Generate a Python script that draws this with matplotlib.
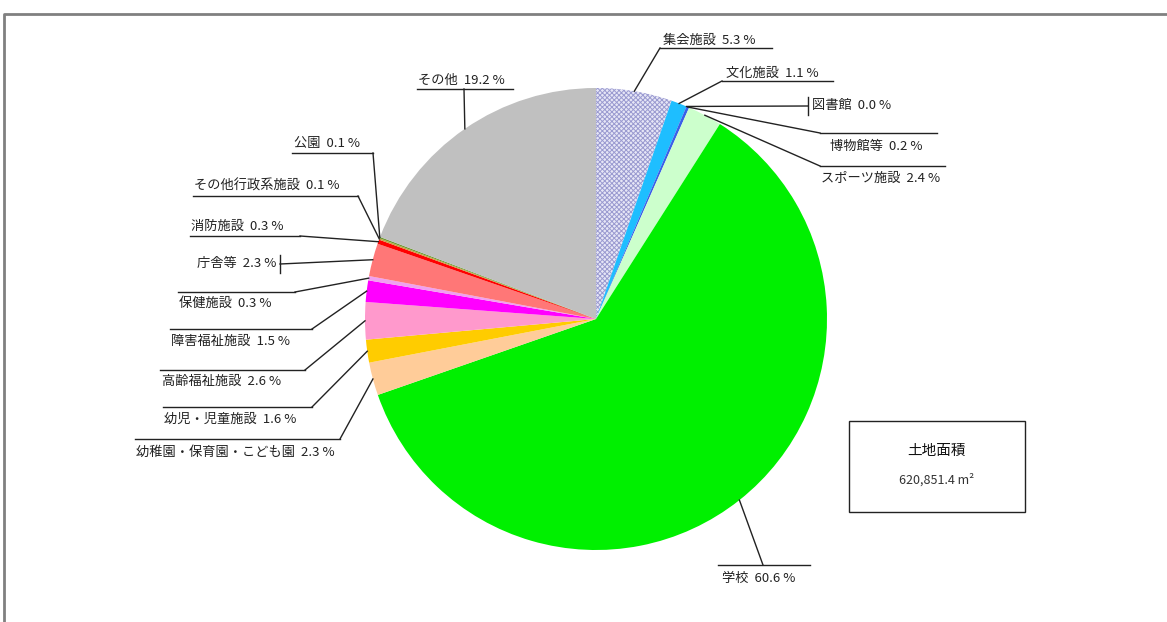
import matplotlib
matplotlib.use('Agg')
import matplotlib.pyplot as plt
from matplotlib.patches import Rectangle
import numpy as np

plt.rcParams['font.family'] = ['Noto Sans CJK JP', 'DejaVu Sans']
plt.rcParams['hatch.linewidth'] = 0.7

# land area share by facility type (%)
names = ['集会施設', '文化施設', '図書館', '博物館等', 'スポーツ施設', '学校',
         '幼稚園・保育園・こども園', '幼児・児童施設', '高齢福祉施設', '障害福祉施設',
         '保健施設', '庁舎等', '消防施設', 'その他行政系施設', '公園', 'その他']
shares = [5.3, 1.1, 0.0, 0.2, 2.4, 60.6, 2.3, 1.6, 2.6, 1.5,
          0.3, 2.3, 0.3, 0.1, 0.1, 19.2]
colors = ['#e6e6f6', '#1ebeff', '#3355ee', '#3a5fe8', '#ccffcc', '#00f000',
          '#ffcc99', '#ffcc00', '#ff99cc', '#ff00ff',
          '#f0a0f0', '#ff7777', '#ff0000', '#c8a040', '#6a9a30', '#c0c0c0']
total_label = '土地面積'
total_value = '620,851.4 m²'

# label placement in pixels: text x, text y, ha, underline x0, x1, line y, joint x, kind
layout = [
    (663, 40, 'left', 660, 772, 48, 660, 'line'),
    (726, 73, 'left', 722, 833, 81, 722, 'line'),
    (812, 106, 'left', None, None, 106, 808, 'bar'),
    (830, 146, 'left', 820, 937, 133, 820, 'line'),
    (821, 178, 'left', 820, 945, 166, 820, 'line'),
    (722, 578, 'left', 718, 810, 565, 763, 'line'),
    (136, 452, 'left', 135, 340, 439, 340, 'line'),
    (164, 419, 'left', 163, 312, 407, 312, 'line'),
    (162, 381, 'left', 160, 305, 370, 305, 'line'),
    (171, 341, 'left', 170, 312, 329, 312, 'line'),
    (179, 303, 'left', 178, 295, 292, 295, 'line'),
    (276, 263, 'right', None, None, 264, 280, 'bar'),
    (191, 226, 'left', 190, 300, 236, 300, 'line'),
    (194, 186, 'left', 193, 358, 196, 358, 'line'),
    (294, 143, 'left', 292, 373, 153, 373, 'line'),
    (418, 80, 'left', 417, 513, 89, 464, 'line'),
]

W, H = 1167, 622
cx, cy, r = 596, 319, 231

fig = plt.figure(figsize=(W / 100, H / 100), dpi=100)
ax = fig.add_axes([0, 0, 1, 1])

# y axis runs downward, so start at -90 and go counterclockwise = clockwise on screen
wedges, _ = ax.pie(shares, colors=colors, startangle=-90, counterclock=True,
                   center=(cx, cy), radius=r, wedgeprops=dict(linewidth=0))
wedges[0].set_hatch('xxxxxxx')
wedges[0].set_edgecolor('#9a9ad0')
wedges[0].set_linewidth(0)

ax.set_xlim(0, W)
ax.set_ylim(H, 0)
ax.set_aspect('equal')
ax.axis('off')

for w, name, val, lay in zip(wedges, names, shares, layout):
    tx, ty, ha, x0, x1, ly, jx, kind = lay
    mid = np.deg2rad((w.theta1 + w.theta2) / 2)
    ex, ey = cx + r * np.cos(mid), cy + r * np.sin(mid)
    ax.plot([ex, jx], [ey, ly], color='#222222', lw=1)
    if kind == 'line':
        ax.plot([x0, x1], [ly, ly], color='#222222', lw=1)
    else:
        ax.plot([jx, jx], [ly - 9, ly + 9], color='#222222', lw=1)
    ax.text(tx, ty, f'{name}  {val:.1f} %', ha=ha, va='center',
            fontsize=9.5, color='#222222')

# total area box
ax.add_patch(Rectangle((849, 421), 176, 91, fill=False, edgecolor='#222222', lw=1))
ax.text(937, 451, total_label, ha='center', va='center', fontsize=10.5, color='#111111')
ax.text(937, 480, total_value, ha='center', va='center', fontsize=9, color='#333333')

# outer frame (cut off at the right and bottom)
ax.plot([4, 4, W], [H, 14, 14], color='#808080', lw=2, clip_on=False)

fig.savefig('out.png', dpi=100)
